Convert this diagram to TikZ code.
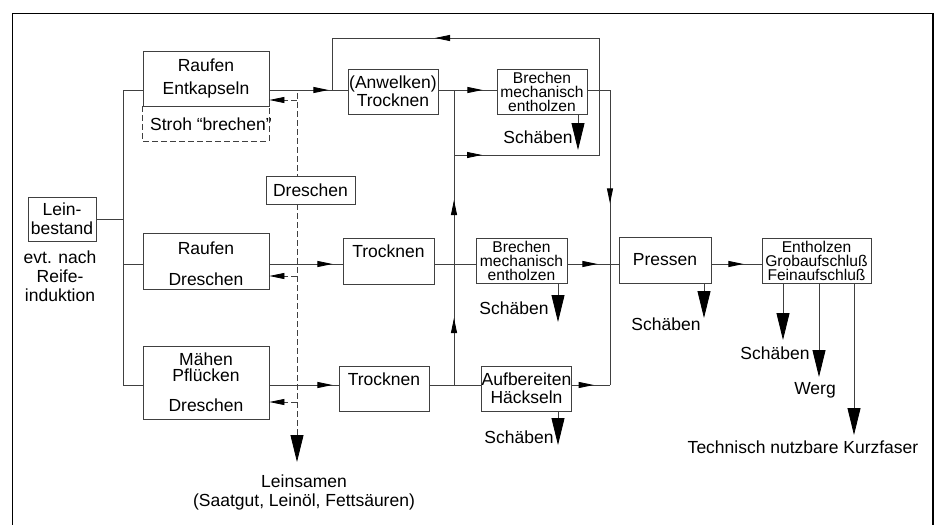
\documentclass[tikz,border=0pt]{standalone}
\usepackage{fontspec}
\setmainfont{Liberation Sans}
\usetikzlibrary{arrows.meta,decorations.markings,positioning}

\tikzset{
  tri/.tip={Triangle[length=15pt,width=6pt,color=black]},
  bigtri/.tip={Triangle[length=27pt,width=13pt,color=black]},
  box/.style={draw=black!75, line width=0.8pt, fill=white, inner sep=0pt, align=center},
  txt/.style={inner sep=0pt, align=center},
  small/.style={font=\fontsize{15.6}{14}\selectfont},
  line/.style={draw=black!75, line width=0.8pt},
  dashline/.style={line, dash pattern=on 6pt off 3pt},
  arrat/.style={postaction={decorate,decoration={markings,mark=at position #1pt with {\arrow{tri}}}}}
}

\begin{document}
\begin{tikzpicture}[x=1pt,y=-1pt,every node/.style={font=\fontsize{17.5}{19}\selectfont}]
\fill[white] (0,0) rectangle (938,525);
\useasboundingbox (0,0) rectangle (938,525);
\draw[line width=1.4pt] (12.5,525) -- (12.5,13.3) -- (933,13.3) -- (933,525);

% Zeilen
\coordinate (rowA) at (0,90);
\coordinate (rowB) at (0,264);
\coordinate (rowC) at (0,385);

% Kaesten
\node[box, minimum width=68pt, minimum height=44pt] (lein) at (62,219) {Lein-\\bestand};
\node[txt] (reife) at (60,276) {evt. nach\\Reife-\\induktion};

\node[box, minimum width=126pt, minimum height=55pt] (rauf1) at (206,78.5) {Raufen\\[4pt]Entkapseln};
\node[txt, minimum width=126pt, minimum height=35pt] (stroh) at (206,123.5) {};
\node[txt] (strohtxt) at (211,124) {Stroh “brechen”};
\node[box, minimum width=89pt, minimum height=28pt] (dresch) at (310.5,190) {Dreschen};
\node[box, minimum width=126pt, minimum height=56pt] (rauf2) at (206,261) {\rule{0pt}{19pt}Raufen\\[12pt]Dreschen};
\node[box, minimum width=126pt, minimum height=73pt] (maeh) at (206,382.5) {Mähen\\[-3pt]Pflücken\\[11pt]Dreschen};

\node[box, minimum width=90pt, minimum height=45pt] (anw) at (393,91.5) {(Anwelken)\\[-1pt]Trocknen};
\node[box, minimum width=91pt, minimum height=46pt] (trock1) at (388.5,261) {Trocknen\\{}};
\node[box, minimum width=90pt, minimum height=45pt] (trock2) at (384,388.5) {Trocknen\\{}};

\node[box, small, minimum width=90pt, minimum height=45pt] (brech1) at (542,91.5) {Brechen\\mechanisch\\entholzen};
\node[box, small, minimum width=91pt, minimum height=45pt] (brech2) at (521.5,260.5) {Brechen\\mechanisch\\entholzen};
\node[box, minimum width=89pt, minimum height=45pt] (aufb) at (526.5,388.5) {Aufbereiten\\[-1pt]Häckseln};

\node[box, minimum width=92pt, minimum height=46pt] (press) at (665,260) {Pressen};
\node[box, small, minimum width=109pt, minimum height=45pt] (enth) at (816.5,260.5) {Entholzen\\Grobaufschluß\\Feinaufschluß};

% Ausgaenge
\node[txt] (sch1) at (538,137) {Schäben};
\node[txt] (sch2) at (514,308) {Schäben};
\node[txt] (sch3) at (519,437) {Schäben};
\node[txt] (sch4) at (666,324) {Schäben};
\node[txt] (sch5) at (775,353) {Schäben};
\node[txt] (werg) at (815,390) {Werg};
\node[txt] (kurz) at (803,447) {Technisch nutzbare Kurzfaser};
\node[txt] (lsam) at (304,492) {Leinsamen\\(Saatgut, Leinöl, Fettsäuren)};

% Knickpunkte
\coordinate (split) at (123,219);
\coordinate (kA) at (454,90);
\coordinate (kB) at (454,155);
\coordinate (kC) at (454,385);
\coordinate (rA) at (599,155);
\coordinate (rB) at (599,38);
\coordinate (rC) at (332,38);
\coordinate (rD) at (332,90);
\coordinate (pA) at (610,90);
\coordinate (pC) at (610,385);
\coordinate (d0) at (297,93);
\coordinate (dA) at (297,100);
\coordinate (dB) at (297,276);
\coordinate (dC) at (297,402);
\coordinate (dE) at (297,462);
\coordinate (t1) at (578,150);
\coordinate (t2) at (558,322);
\coordinate (t3) at (558,445);
\coordinate (t4) at (704,318);
\coordinate (t5) at (783,340);
\coordinate (t6) at (819,377);
\coordinate (t7) at (854,435);

% Stroh-Teil gestrichelt
\draw[dashline] (stroh.north west) -- (stroh.south west) -- (stroh.south east) -- (stroh.north east);

% Verzweigung
\draw[line] (lein.east) -- (split);
\draw[line] (split |- rowA) -- (split |- rowC);
\draw[line] (split |- rowA) -- (rauf1.west |- rowA);
\draw[line] (split |- rowB) -- (rauf2.west |- rowB);
\draw[line] (split |- rowC) -- (maeh.west |- rowC);

% obere Reihe
\draw[line, arrat=59] (rauf1.east |- rowA) -- (anw.west |- rowA);
\draw[line, arrat=44] (anw.east |- rowA) -- (brech1.west |- rowA);
\draw[line, arrat=28, arrat=426] (kB) -- (rA) -- (rB) -- (rC) -- (rD);
\draw[line, arrat=67, arrat=185] (kC) -- (kA);
\draw[line, arrat=136] (brech1.east |- rowA) -- (pA) -- (pC);

% mittlere Reihe
\draw[line, arrat=63] (rauf2.east |- rowB) -- (trock1.west |- rowB);
\draw[line] (trock1.east |- rowB) -- (brech2.west |- rowB);
\draw[line, arrat=30] (brech2.east |- rowB) -- (press.west |- rowB);
\draw[line, arrat=32] (press.east |- rowB) -- (enth.west |- rowB);

% untere Reihe
\draw[line, arrat=63] (maeh.east |- rowC) -- (trock2.west |- rowC);
\draw[line] (trock2.east |- rowC) -- (aufb.west |- rowC);
\draw[line, arrat=22] (aufb.east |- rowC) -- (pC);

% Leinsamen
\draw[dashline] (d0) -- (dresch.north -| d0);
\draw[dashline, -bigtri] (dresch.south -| d0) -- (dE);
\draw[dashline, -tri] (dA) -- (rauf1.east |- dA);
\draw[dashline, -tri] (dB) -- (rauf2.east |- dB);
\draw[dashline, -tri] (dC) -- (maeh.east |- dC);

% Schaeben usw.
\draw[line, -bigtri] (brech1.south -| t1) -- (t1);
\draw[line, -bigtri] (brech2.south -| t2) -- (t2);
\draw[line, -bigtri] (aufb.south -| t3) -- (t3);
\draw[line, -bigtri] (press.south -| t4) -- (t4);
\draw[line, -bigtri] (enth.south -| t5) -- (t5);
\draw[line, -bigtri] (enth.south -| t6) -- (t6);
\draw[line, -bigtri] (enth.south -| t7) -- (t7);
\end{tikzpicture}
\end{document}
